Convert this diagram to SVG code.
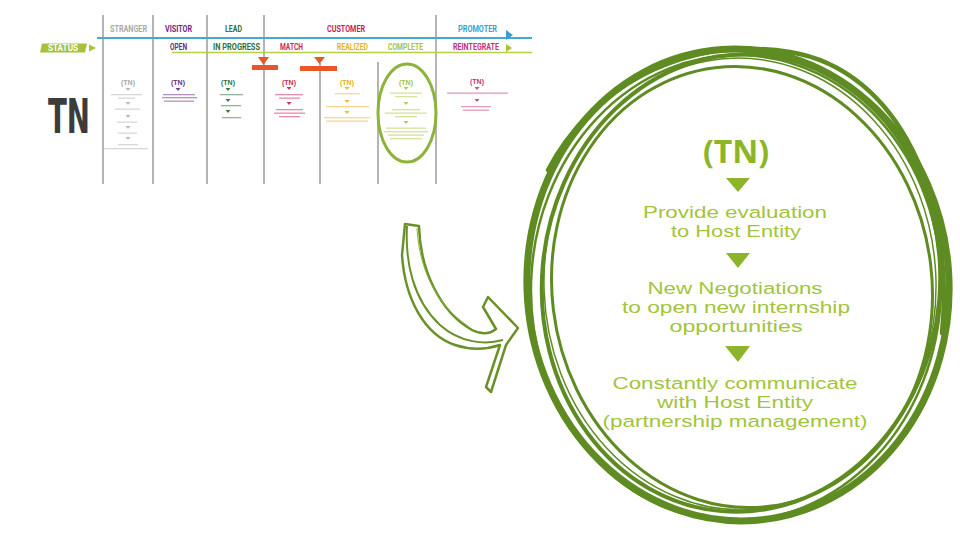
<svg xmlns="http://www.w3.org/2000/svg" width="960" height="540" viewBox="0 0 960 540">
<defs>
<style>
.hd{font-family:"Roboto","Liberation Sans",sans-serif;font-weight:bold;font-size:8.5px;text-anchor:middle}
.tn{font-family:"Liberation Sans",sans-serif;font-weight:bold;font-size:7px;text-anchor:middle}
.vl{stroke:#b4b4b4;stroke-width:2}
.big{font-family:"Liberation Sans",sans-serif;font-size:16.8px;fill:#a3c43a;text-anchor:middle}
.ring{fill:none;stroke:#5f8c22}
.faint{opacity:0.55}
</style>
</defs>
<rect width="960" height="540" fill="#ffffff"/>

<g id="header">
<line class="vl" x1="103" y1="15" x2="103" y2="184"/>
<line class="vl" x1="153" y1="15" x2="153" y2="184"/>
<line class="vl" x1="207" y1="15" x2="207" y2="184"/>
<line class="vl" x1="264" y1="15" x2="264" y2="184"/>
<line class="vl" x1="320" y1="63" x2="320" y2="184"/>
<line class="vl" x1="378" y1="62" x2="378" y2="184"/>
<line class="vl" x1="436" y1="15" x2="436" y2="184"/>
<line x1="97" y1="38" x2="532" y2="38" stroke="#45a8cc" stroke-width="2"/>
<line x1="172" y1="52.5" x2="532" y2="52.5" stroke="#b9cf45" stroke-width="1.5"/>
<text class="hd" x="128.5" y="32" fill="#a9a9a9" textLength="37" lengthAdjust="spacingAndGlyphs">STRANGER</text>
<text class="hd" x="178.5" y="32" fill="#6a2a7e" textLength="27" lengthAdjust="spacingAndGlyphs">VISITOR</text>
<text class="hd" x="233.5" y="32" fill="#2f6e3c" textLength="17" lengthAdjust="spacingAndGlyphs">LEAD</text>
<text class="hd" x="346" y="32" fill="#c41d58" textLength="38" lengthAdjust="spacingAndGlyphs">CUSTOMER</text>
<text class="hd" x="477.5" y="32" fill="#3a9fd0" textLength="39" lengthAdjust="spacingAndGlyphs">PROMOTER</text>
<polygon points="506,30 513,35 506,40" fill="#3a9fd0"/>
<text class="hd" x="178.5" y="50" fill="#6a2a7e" textLength="17" lengthAdjust="spacingAndGlyphs">OPEN</text>
<text class="hd" x="236.5" y="50" fill="#2f6e3c" textLength="47" lengthAdjust="spacingAndGlyphs">IN PROGRESS</text>
<text class="hd" x="291.5" y="50" fill="#c8285a" textLength="23" lengthAdjust="spacingAndGlyphs">MATCH</text>
<text class="hd" x="352.5" y="50" fill="#e8b020" textLength="31" lengthAdjust="spacingAndGlyphs">REALIZED</text>
<text class="hd" x="405.5" y="50" fill="#a8c23a" textLength="35" lengthAdjust="spacingAndGlyphs">COMPLETE</text>
<text class="hd" x="476" y="50" fill="#c2307a" textLength="46" lengthAdjust="spacingAndGlyphs">REINTEGRATE</text>
<polygon points="506,44 512,48 506,52" fill="#a8c23a"/>
</g>

<g id="status">
<polygon points="42,43.5 87,43.5 85,52.5 40,52.5" fill="#a5c23a"/>
<text x="63" y="51" font-family="Roboto,'Liberation Sans',sans-serif" font-weight="bold" font-size="8.5" fill="#ffffff" text-anchor="middle" textLength="30" lengthAdjust="spacingAndGlyphs">STATUS</text>
<polygon points="89,44.5 96,48 89,51.5" fill="#a5c23a"/>
</g>

<g id="markers">
<polygon points="258,57 269,57 263.5,65" fill="#e8572a"/>
<rect x="252" y="65" width="26" height="5" fill="#e8572a"/>
<polygon points="314,57 325,57 319.5,64" fill="#e8572a"/>
<rect x="300" y="66" width="37" height="5" fill="#e8572a"/>
</g>

<g id="tn-label">
<text x="69" y="133" font-family="'DejaVu Sans Condensed','Roboto','Liberation Sans',sans-serif" font-weight="bold" font-size="48" fill="#3c3c3c" text-anchor="middle" textLength="42" lengthAdjust="spacingAndGlyphs">TN</text>
</g>

<g id="col-stranger" fill="#b9b9b9">
<text class="tn" x="128" y="85" fill="#a9a9a9">(TN)</text>
<polygon points="125.5,88 130.5,88 128,91"/>
<g class="faint">
<rect x="111" y="94" width="31" height="1.3"/><rect x="118" y="97.5" width="17" height="1.3"/>
<rect x="115" y="108.5" width="25" height="1.3"/>
<rect x="117" y="121.5" width="20" height="1.3"/>
<rect x="118" y="132.5" width="19" height="1.3"/>
<rect x="118" y="144" width="20" height="1.3"/><rect x="104" y="148" width="44" height="1.3"/>
</g>
<polygon points="125.5,102 130.5,102 128,105"/>
<polygon points="125.5,115 130.5,115 128,118"/>
<polygon points="125.5,126 130.5,126 128,129"/>
<polygon points="125.5,137 130.5,137 128,140"/>
</g>

<g id="col-visitor" fill="#7a3a8e">
<text class="tn" x="178" y="85" fill="#6a2a7e">(TN)</text>
<polygon points="175.5,88 180.5,88 178,91"/>
<g class="faint"><rect x="163" y="94" width="32" height="1.3"/><rect x="162" y="97" width="35" height="1.3"/><rect x="164" y="100.5" width="30" height="1.3"/></g>
</g>

<g id="col-lead" fill="#3c7a48">
<text class="tn" x="228" y="85" fill="#2f6e3c">(TN)</text>
<polygon points="225.5,88 230.5,88 228,91"/>
<polygon points="225.5,99 230.5,99 228,102"/>
<polygon points="225.5,110 230.5,110 228,113"/>
<g class="faint"><rect x="220" y="94" width="23" height="1.3"/><rect x="221" y="105" width="20" height="1.3"/><rect x="222" y="117" width="19" height="1.3"/></g>
</g>

<g id="col-match" fill="#d0306a">
<text class="tn" x="289" y="85" fill="#c8285a">(TN)</text>
<polygon points="286.5,87 291.5,87 289,90"/>
<polygon points="286.5,102 291.5,102 289,105"/>
<g class="faint"><rect x="275" y="94" width="28" height="1.3"/><rect x="279" y="97.5" width="21" height="1.3"/>
<rect x="276" y="109" width="27" height="1.3"/><rect x="274" y="112.5" width="31" height="1.3"/><rect x="279" y="116" width="21" height="1.3"/></g>
</g>

<g id="col-realized" fill="#f0b830">
<text class="tn" x="347" y="85" fill="#e8b020">(TN)</text>
<polygon points="344.5,87 349.5,87 347,90"/>
<polygon points="344.5,100 349.5,100 347,103"/>
<polygon points="344.5,111 349.5,111 347,114"/>
<g class="faint"><rect x="335" y="93" width="25" height="1.3"/><rect x="326" y="106" width="43" height="1.3"/>
<rect x="324" y="117" width="46" height="1.3"/><rect x="326" y="120.5" width="42" height="1.3"/></g>
</g>

<g id="col-complete" fill="#b5cc50">
<text class="tn" x="406" y="85" fill="#a8c23a">(TN)</text>
<polygon points="403.5,87 408.5,87 406,90"/>
<polygon points="403.5,102 408.5,102 406,105"/>
<polygon points="403.5,121 408.5,121 406,124"/>
<g class="faint"><rect x="390" y="92.5" width="32" height="1.3"/><rect x="395" y="96" width="22" height="1.3"/>
<rect x="392" y="109" width="28" height="1.3"/><rect x="385" y="112.5" width="42" height="1.3"/><rect x="395" y="116" width="22" height="1.3"/>
<rect x="386" y="127.5" width="40" height="1.3"/><rect x="384" y="131" width="44" height="1.3"/><rect x="388" y="134.5" width="36" height="1.3"/><rect x="390" y="138" width="32" height="1.3"/></g>
</g>
<ellipse id="highlight" cx="407" cy="113" rx="29" ry="49" fill="none" stroke="#8db33a" stroke-width="3"/>

<g id="col-reintegrate" fill="#d04a8a">
<text class="tn" x="477" y="84" fill="#c2307a">(TN)</text>
<polygon points="474.5,87 479.5,87 477,90"/>
<polygon points="474.5,99 479.5,99 477,102"/>
<g class="faint"><rect x="447" y="92.5" width="61" height="1.3"/><rect x="461" y="106" width="30" height="1.3"/><rect x="463" y="109.5" width="26" height="1.3"/></g>
</g>

<g id="connectors">
<path d="M405,224 L419,226 C420,270 440,312 472,330 C482,335 490,334 496,329 L483,307 L488,297 L518,328 L506,345 L491,392 L486,387 L500,345 C485,350 470,350 455,345 C425,335 405,300 402,255 Z" fill="#ffffff" stroke="#6a9128" stroke-width="2.5" stroke-linejoin="round"/>
<path d="M407,226 C405,262 413,300 440,325 C460,343 485,345 503,340" fill="none" stroke="#6a9128" stroke-width="2"/>
<path d="M417,228 C419,268 436,305 468,326" fill="none" stroke="#8db33a" stroke-width="1"/>
</g>

<g id="detail">
<g id="ring">
<ellipse class="ring" cx="738" cy="285" rx="211" ry="236" stroke-width="7" transform="rotate(-4 738 285)"/>
<ellipse class="ring" cx="741" cy="283" rx="199" ry="229" stroke-width="4" transform="rotate(5 741 283)"/>
<ellipse class="ring" cx="742" cy="287" rx="190" ry="221" stroke-width="3" transform="rotate(-7 742 287)"/>
<ellipse class="ring" cx="736" cy="288" rx="205" ry="233" stroke-width="2.5" transform="rotate(2 736 288)"/>
<ellipse class="ring" cx="740" cy="284" rx="196" ry="226" stroke-width="1.5" stroke="#7aa030" transform="rotate(-2 740 284)"/>
<path class="ring" d="M942,333 C955,200 900,70 790,52 C680,35 590,90 548,170" stroke-width="4.5" stroke-linecap="round"/>
</g>
<text x="736" y="163" font-family="'Noto Sans','Open Sans',sans-serif" font-weight="bold" font-size="32" fill="#8cb52a" text-anchor="middle">(TN)</text>
<polygon points="726,178 750,178 738,192" fill="#8cb52a"/>
<text class="big"><tspan x="735" y="218" textLength="184" lengthAdjust="spacingAndGlyphs">Provide evaluation</tspan><tspan x="736" y="237" textLength="130" lengthAdjust="spacingAndGlyphs">to Host Entity</tspan></text>
<polygon points="726,253 750,253 738,268" fill="#8cb52a"/>
<text class="big"><tspan x="735" y="294" textLength="175" lengthAdjust="spacingAndGlyphs">New Negotiations</tspan><tspan x="736" y="313" textLength="228" lengthAdjust="spacingAndGlyphs">to open new internship</tspan><tspan x="736" y="332" textLength="133" lengthAdjust="spacingAndGlyphs">opportunities</tspan></text>
<polygon points="725,346 750,346 738,362" fill="#8cb52a"/>
<text class="big"><tspan x="735" y="389" textLength="245" lengthAdjust="spacingAndGlyphs">Constantly communicate</tspan><tspan x="735" y="408" textLength="156" lengthAdjust="spacingAndGlyphs">with Host Entity</tspan><tspan x="735" y="427" textLength="265" lengthAdjust="spacingAndGlyphs">(partnership management)</tspan></text>
</g>
</svg>
